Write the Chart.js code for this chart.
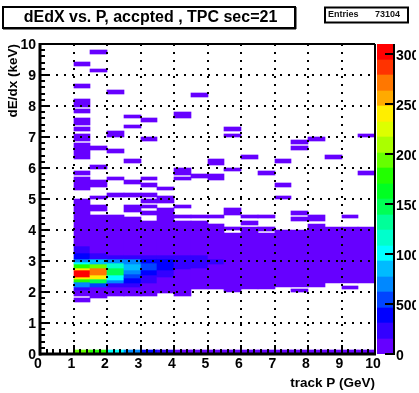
<!DOCTYPE html>
<html><head><meta charset="utf-8">
<style>html,body{margin:0;padding:0;background:#fff}canvas{position:absolute;top:0}#main{left:0}#bar{left:377px}</style>
<script src="https://cdn.jsdelivr.net/npm/chart.js@4/dist/chart.umd.min.js"></script>
</head><body>
<canvas id="main" width="416" height="393"></canvas>
<canvas id="bar" width="39" height="393"></canvas>
<script>
const titleText = "dEdX vs. P, accpted , TPC sec=21";
const statsLabel = "Entries";
const statsValue = "73104";
const xLabel = "track P (GeV)";
const yLabel = "dE/dx (keV)";

// Left edge of each track P bin
const pBins = [1.0,1.5,2.0,2.5,3.0,3.5,4.0,4.5,5.0,5.5,6.0,6.5,7.0,7.5,8.0,8.5,9.0,9.5];
const pBinWidth = 0.5;

// Cells per P bin: [dE/dx low, dE/dx high, counts]
const p10 = [[0,0.12,1940],[1.68,1.81,80],[1.87,2.06,80],[2.06,2.16,230],[2.16,2.32,700],[2.32,2.42,1780],[2.42,2.48,2400],[2.48,2.71,3020],[2.71,2.77,2400],[2.77,2.90,1780],[2.90,2.98,1010],[2.98,3.06,700],[3.06,3.26,390],[3.26,3.48,230],[3.48,5.0,80],[5.29,5.71,80],[5.77,5.90,80],[6.29,6.81,80],[6.87,7.10,80],[7.19,7.32,80],[7.39,7.61,80],[7.77,7.90,80],[7.98,8.23,80],[8.58,8.71,80],[9.29,9.42,80]];
const p15 = [[0,0.12,1780],[1.81,2.16,80],[2.16,2.29,540],[2.29,2.42,1470],[2.42,2.55,2400],[2.55,2.77,2710],[2.77,2.90,1940],[2.90,3.06,850],[3.06,3.26,230],[3.26,4.48,80],[4.61,4.81,80],[5.0,5.10,80],[5.39,5.61,80],[5.97,6.10,80],[6.58,6.71,80],[9.10,9.19,80],[9.68,9.81,80]];
const p20 = [[0,0.12,1010],[1.87,2.16,80],[2.16,2.29,230],[2.29,2.39,700],[2.39,2.55,1010],[2.55,2.77,1470],[2.77,2.94,1160],[2.94,3.06,700],[3.06,3.19,230],[3.19,4.48,80],[5.06,5.19,80],[5.61,5.71,80],[6.48,6.61,80],[7.0,7.19,80],[8.39,8.52,80]];
const p25 = [[0,0.12,700],[1.87,2.16,80],[2.16,2.29,230],[2.29,2.45,390],[2.45,2.58,540],[2.58,2.71,700],[2.71,2.90,850],[2.90,3.06,700],[3.06,3.19,230],[3.19,4.42,80],[4.58,4.81,80],[5.06,5.19,80],[5.48,5.61,80],[6.16,6.29,80],[7.29,7.39,80],[7.61,7.71,80]];
const p30 = [[0,0.12,390],[1.87,2.29,80],[2.29,2.55,230],[2.55,2.71,390],[2.71,2.94,540],[2.94,3.06,390],[3.06,3.19,230],[3.19,4.29,80],[4.48,4.61,80],[4.71,4.81,80],[4.87,5.0,80],[5.06,5.19,80],[5.39,5.52,80],[5.61,5.71,80],[6.87,7.0,80],[7.48,7.61,80]];
const p35 = [[0,0.12,230],[1.97,2.48,80],[2.48,2.71,230],[2.71,3.06,390],[3.06,3.19,230],[3.19,4.71,80],[4.87,5.10,80],[5.29,5.39,80]];
const p40 = [[0,0.12,80],[1.87,2.74,80],[2.74,3.19,230],[3.19,4.29,80],[4.39,4.48,80],[4.71,4.81,80],[5.61,5.71,80],[5.77,6.0,80],[7.61,7.81,80]];
const p45 = [[0,0.12,80],[2.10,2.77,80],[2.77,3.19,230],[3.19,4.29,80],[4.39,4.48,80],[5.68,5.81,80],[8.29,8.42,80]];
const p50 = [[0,0.12,80],[2.10,2.90,80],[2.90,3.06,230],[3.06,4.19,80],[4.39,4.48,80],[5.61,5.81,80],[6.10,6.29,80]];
const p55 = [[0,0.12,80],[2.0,3.91,80],[4.0,4.10,80],[4.48,4.71,80],[5.90,6.0,80],[7.0,7.10,80],[7.19,7.32,80]];
const p60 = [[0,0.12,80],[2.10,4.10,80],[4.16,4.29,80],[4.39,4.48,80],[6.29,6.42,80]];
const p65 = [[0,0.12,80],[2.10,3.90,80],[3.97,4.10,80],[4.39,4.48,80],[5.77,5.90,80]];
const p70 = [[0,0.12,80],[2.16,4.0,80],[5.0,5.10,80],[5.39,5.52,80],[6.16,6.29,80]];
const p75 = [[0,0.12,80],[2.0,2.10,80],[2.16,4.0,80],[4.29,4.42,80],[4.48,4.61,80],[6.58,6.71,80],[6.77,6.90,80]];
const p80 = [[0,0.12,80],[2.16,4.19,80],[4.29,4.48,80],[6.87,7.0,80]];
const p85 = [[0,0.12,80],[2.29,4.10,80],[6.29,6.42,80]];
const p90 = [[0,0.12,80],[2.10,2.20,80],[2.29,4.10,80],[4.39,4.48,80]];
const p95 = [[0,0.12,80],[2.29,4.10,80],[5.77,5.90,80],[7.0,7.10,80]];
const pColumns = [p10,p15,p20,p25,p30,p35,p40,p45,p50,p55,p60,p65,p70,p75,p80,p85,p90,p95];

// Colour scale: level edges (counts) and one colour per level, bottom to top
const zEdges = [0,155,310,465,620,775,930,1085,1240,1395,1550,1705,1860,2015,2170,2325,2480,2635,2790,2945,3100];
const zColors = ["#6600ff","#3300ff","#0000ff","#0044ff","#0088ff","#00bbff","#00ffff","#00ffcc","#00ff99","#00ff55","#00ff22","#22ff00","#66ff00","#aaff00","#ddff00","#ffee00","#ffaa00","#ff7700","#ff3300","#ff0000"];
const zTickValues = [0,500,1000,1500,2000,2500,3000];
const xRange = [0,10];
const yRange = [0,10];
const axisMinorStep = 0.2;

const FONT = "'Liberation Sans', Arial, sans-serif";
const black = "#000";

function colorFor(z){
  for(let i=zColors.length-1;i>=0;i--) if(z>=zEdges[i]) return zColors[i];
  return zColors[0];
}

const cells = [];
const cellColors = [];
pColumns.forEach((col,i)=>{
  col.forEach(c=>{
    cells.push({x:pBins[i]+pBinWidth/2, y:[c[0],c[1]]});
    cellColors.push(colorFor(c[2]));
  });
});

// Histogram cells sit on whole pixels so neighbouring bins leave no seams
const snapBars = {
  id:'snapBars',
  afterDatasetsUpdate(chart){
    chart.getSortedVisibleDatasetMetas().forEach(meta=>{
      meta.data.forEach(el=>{
        const l=Math.round(el.x-el.width/2), r=Math.round(el.x+el.width/2);
        el.x=(l+r)/2; el.width=r-l;
        const t=Math.round(Math.min(el.y,el.base)), b=Math.round(Math.max(el.y,el.base));
        el.y=t; el.base=b; el.height=b-t;
      });
    });
  }
};

function line(ctx,x1,y1,x2,y2,w){
  ctx.lineWidth=w; ctx.beginPath(); ctx.moveTo(x1,y1); ctx.lineTo(x2,y2); ctx.stroke();
}

const rootDecor = {
  id:'rootDecor',
  afterLayout(chart){
    const t=chart.titleBlock;
    t.left=4; t.right=297;
  },
  beforeDraw(chart){
    const c=chart.ctx;
    c.save();
    c.strokeStyle=black;
    c.lineWidth=2; c.strokeRect(3,7,292,21);
    line(c,3,28.5,296,28.5,2);
    line(c,295.5,7,295.5,29,2);
    c.strokeRect(325,7.5,83,15);
    c.fillStyle="#111";
    c.font="bold 9px "+FONT;
    c.textBaseline="middle";
    c.textAlign="left";
    c.fillText(statsLabel,328,15);
    c.textAlign="right";
    c.fillText(statsValue,400,15);
    c.restore();
  },
  afterDraw(chart){
    const c=chart.ctx, a=chart.chartArea, xs=chart.scales.x, ys=chart.scales.y;
    c.save();
    c.strokeStyle=black; c.lineCap="butt";
    const n=Math.round((xRange[1]-xRange[0])/axisMinorStep);
    for(let i=1;i<n;i++){
      const len=(i%5===0)?9:5;
      const px=Math.round(xs.getPixelForValue(i*axisMinorStep));
      line(c,px,a.bottom,px,a.bottom-len,2);
    }
    for(let i=1;i<n;i++){
      const len=(i%5===0)?10:5;
      const py=Math.round(ys.getPixelForValue(i*axisMinorStep));
      line(c,a.left,py,a.left+len,py,2);
    }
    line(c,a.left,a.top-1,a.left,a.bottom+1.5,3);
    line(c,a.left-1,a.bottom,a.right+1,a.bottom,3);
    line(c,a.left,a.top,a.right,a.top,2);
    line(c,a.right,a.top,a.right,a.bottom,2);
    c.restore();
  }
};

new Chart(document.getElementById('main'),{
  type:'bar',
  data:{datasets:[{label:'dE/dx vs P',data:cells,backgroundColor:cellColors,borderWidth:0,barPercentage:1,categoryPercentage:1}]},
  plugins:[snapBars,rootDecor],
  options:{
    responsive:false,animation:false,
    layout:{padding:{left:0,right:41,top:0,bottom:0}},
    plugins:{
      legend:{display:false},tooltip:{enabled:false},
      title:{display:true,text:titleText,color:black,font:{family:FONT,size:16,weight:'bold'},padding:{top:8,bottom:16.8}}
    },
    scales:{
      x:{type:'linear',min:xRange[0],max:xRange[1],offset:false,
        grid:{display:true,offset:false,color:black,lineWidth:2,drawTicks:false,z:1},
        border:{display:false,dash:[2,6]},
        ticks:{stepSize:1,autoSkip:false,maxRotation:0,includeBounds:false,color:black,padding:2,labelOffset:-2,font:{family:FONT,size:14,weight:'bold'}},
        title:{display:true,text:xLabel,align:'end',color:black,font:{family:FONT,size:13.5,weight:'bold'},padding:{top:0,bottom:2}},
        afterFit(s){s.height=39;}
      },
      y:{type:'linear',min:yRange[0],max:yRange[1],
        grid:{display:true,color:black,lineWidth:2,drawTicks:false,z:1},
        border:{display:false,dash:[2,6]},
        ticks:{stepSize:1,autoSkip:false,includeBounds:false,color:black,padding:4,labelOffset:1,font:{family:FONT,size:14,weight:'bold'}},
        title:{display:true,text:yLabel,align:'end',color:black,font:{family:FONT,size:13.5,weight:'bold'},padding:{top:5,bottom:0}},
        afterFit(s){s.width=40;}
      }
    }
  }
});

// Colour scale
const zTicks = {
  id:'zTicks',
  afterDraw(chart){
    const c=chart.ctx, a=chart.chartArea, zs=chart.scales.y;
    c.save(); c.strokeStyle=black;
    zs.ticks.forEach(t=>{
      const py=Math.round(zs.getPixelForValue(t.value));
      line(c,a.right-9,py,a.right,py,2);
    });
    line(c,a.right,a.top,a.right,a.bottom+1,2);
    c.restore();
  }
};
new Chart(document.getElementById('bar'),{
  type:'bar',
  data:{labels:['z'],datasets:zColors.map((col,i)=>({label:'z'+i,data:[[zEdges[i],zEdges[i+1]]],backgroundColor:col,borderWidth:0,grouped:false,barPercentage:1,categoryPercentage:1}))},
  plugins:[snapBars,zTicks],
  options:{
    responsive:false,animation:false,
    layout:{padding:{left:0,right:0,top:44,bottom:39}},
    plugins:{legend:{display:false},tooltip:{enabled:false},title:{display:false}},
    scales:{
      x:{display:false},
      y:{position:'right',min:zEdges[0],max:zEdges[zEdges.length-1],
        grid:{display:false,drawTicks:false},border:{display:false},
        afterBuildTicks(s){s.ticks=zTickValues.map(v=>({value:v}));},
        ticks:{autoSkip:false,color:black,padding:2,labelOffset:2,callback:v=>String(v),font:{family:FONT,size:14,weight:'bold'}},
        afterFit(s){s.width=22;}
      }
    }
  }
});
</script>
</body></html>
